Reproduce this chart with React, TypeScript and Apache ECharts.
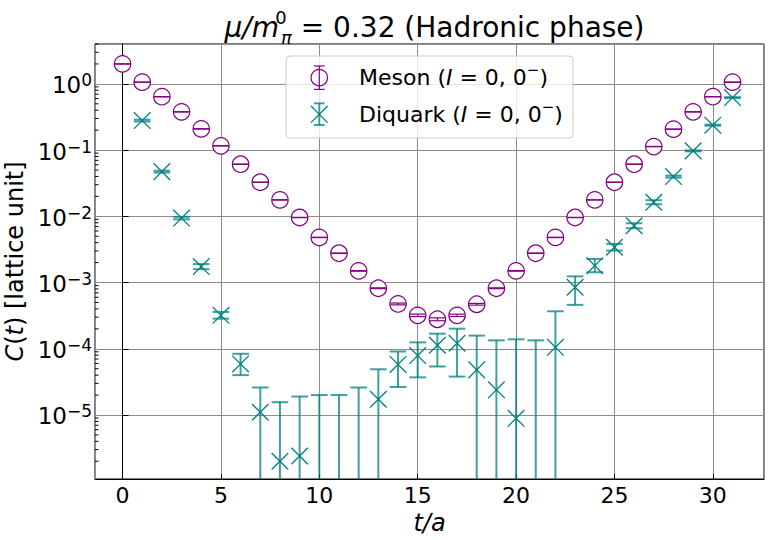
import React, { useEffect, useRef } from "react";
import * as echarts from "echarts";

// ---------- data ----------
const timeSlices = [0, 1, 2, 3, 4, 5, 6, 7, 8, 9, 10, 11, 12, 13, 14, 15, 16, 17, 18, 19, 20, 21, 22, 23, 24, 25, 26, 27, 28, 29, 30, 31];

const mesonValues = [
  2.0, 1.06, 0.64, 0.378, 0.209, 0.116, 0.0612, 0.0327, 0.0177, 0.0096, 0.0048, 0.00277, 0.0015, 0.00082, 0.000475, 0.00032,
  0.000279, 0.00032, 0.00047, 0.00082, 0.0015, 0.00277, 0.0048, 0.0096, 0.0177, 0.0327, 0.0612, 0.113, 0.207, 0.378, 0.64, 1.06,
];
const mesonErrors = [
  0.01, 0.005, 0.003, 0.002, 0.001, 0.0006, 0.0003, 0.00016, 0.00009, 0.00005, 0.00003, 0.00002, 0.000015, 0.000012, 0.000015, 0.000014,
  0.000014, 0.000013, 0.000014, 0.000012, 0.000015, 0.00002, 0.00003, 0.00005, 0.00009, 0.00016, 0.0003, 0.0006, 0.001, 0.002, 0.003, 0.005,
];

// diquark: central value (null = below the axis / not drawn), upper and lower ends of the error bar (null lower = runs below the axis)
const diquarkValues = [
  null, 0.279, 0.0473, 0.0094, 0.00174, 0.00032, 5.9e-5, 1.1e-5, 2.0e-6, 2.4e-6, null, null, null, 1.73e-5, 5.8e-5, 7.9e-5,
  1.13e-4, 1.21e-4, 4.8e-5, 2.4e-5, 8.9e-6, null, 1.05e-4, 8.5e-4, 1.8e-3, 3.41e-3, 7.2e-3, 0.0163, 0.0398, 0.0973, 0.238, 0.621,
];
const diquarkUpper = [
  null, 0.288, 0.0488, 0.0098, 0.0019, 0.00036, 8.4e-5, 2.6e-5, 1.56e-5, 1.9e-5, 2.0e-5, 2.0e-5, 2.6e-5, 4.9e-5, 9.1e-5, 1.25e-4,
  1.69e-4, 2.01e-4, 1.58e-4, 1.34e-4, 1.39e-4, 1.34e-4, 3.68e-4, 1.24e-3, 2.27e-3, 3.83e-3, 7.85e-3, 0.0175, 0.0412, 0.099, 0.242, 0.63,
];
const diquarkLower = [
  null, 0.27, 0.0458, 0.009, 0.00159, 0.000285, 4.0e-5, null, null, null, null, null, null, null, 2.65e-5, 3.7e-5,
  5.4e-5, 3.8e-5, null, null, null, null, null, 4.6e-4, 1.43e-3, 3.04e-3, 6.6e-3, 0.0152, 0.0384, 0.0956, 0.234, 0.61,
];

const yTickExponents = [0, -1, -2, -3, -4, -5];
const minorTickMultipliers = [2, 3, 4, 5, 6, 7, 8, 9];
const minorTickDecades = [-6, -5, -4, -3, -2, -1, 0];

// ---------- styling ----------
const FONT = "DejaVu Sans";
const PURPLE = "#800080";
const TEAL = "#008080";
const TEAL_BAR = "rgba(0,128,128,0.75)";
const GRID_GRAY = "#8c8c8c";
const X_MIN = -1.4;
const X_MAX = 32.6;
const Y_MIN = 1.08e-6;
const Y_MAX = 4.0;

function errorBarRenderer(kind: "meson" | "diquark") {
  return (params: any, api: any) => {
    const t = api.value(0);
    const upper = api.value(1);
    const lower = api.value(2);
    const v = api.value(3);
    const cs = params.coordSys;
    const bottom = cs.y + cs.height;
    const pTop = api.coord([t, upper]);
    const x = pTop[0];
    const yTop = pTop[1];
    const hasLower = isFinite(lower) && lower > 0;
    const yBot = hasLower ? api.coord([t, lower])[1] : bottom + 3;
    const color = kind === "meson" ? PURPLE : TEAL_BAR;
    const lw = kind === "meson" ? 1.2 : 2;
    const cap = kind === "meson" ? 8 : 8.3;
    const hasValue = isFinite(v) && v > 0;
    const c = hasValue ? api.coord([t, v]) : null;
    const children: any[] = [];
    if (kind === "meson" && c) {
      children.push({ type: "circle", shape: { cx: c[0], cy: c[1], r: 8.2 }, style: { fill: "#fff", stroke: PURPLE, lineWidth: 1.2 } });
    }
    children.push({ type: "line", shape: { x1: x, y1: yTop, x2: x, y2: yBot }, style: { stroke: color, lineWidth: lw } });
    children.push({ type: "line", shape: { x1: x - cap, y1: yTop, x2: x + cap, y2: yTop }, style: { stroke: color, lineWidth: lw } });
    if (hasLower) {
      children.push({ type: "line", shape: { x1: x - cap, y1: yBot, x2: x + cap, y2: yBot }, style: { stroke: color, lineWidth: lw } });
    }
    if (kind === "diquark" && c) {
      const h = 8.3;
      children.push({ type: "line", shape: { x1: c[0] - h, y1: c[1] - h, x2: c[0] + h, y2: c[1] + h }, style: { stroke: TEAL, lineWidth: 1.3 } });
      children.push({ type: "line", shape: { x1: c[0] - h, y1: c[1] + h, x2: c[0] + h, y2: c[1] - h }, style: { stroke: TEAL, lineWidth: 1.3 } });
    }
    return { type: "group", children };
  };
}

function minorTickRenderer(params: any, api: any) {
  const v = api.value(1);
  const cs = params.coordSys;
  const p = api.coord([X_MIN, v]);
  if (p[1] < cs.y || p[1] > cs.y + cs.height) return null;
  return { type: "line", shape: { x1: cs.x, y1: p[1], x2: cs.x + 3.5, y2: p[1] }, style: { stroke: "#000", lineWidth: 1 } };
}

function buildOption() {
  const mesonData = timeSlices.map((t, i) => [t, mesonValues[i] + mesonErrors[i], mesonValues[i] - mesonErrors[i], mesonValues[i]]);
  const diquarkData = timeSlices
    .map((t, i) => [t, diquarkUpper[i] ?? NaN, diquarkLower[i] ?? NaN, diquarkValues[i] ?? NaN])
    .filter((d) => isFinite(d[1] as number));
  const minorTicks: number[][] = [];
  minorTickDecades.forEach((e) => minorTickMultipliers.forEach((k) => minorTicks.push([X_MIN, k * Math.pow(10, e)])));

  const supMinus = (e: number) => (e < 0 ? "\u2212" + -e : String(e));

  const legendRich = {
    n: { fontFamily: FONT, fontSize: 22, lineHeight: 30, fill: "#000" },
    i: { fontFamily: FONT, fontSize: 22, fontStyle: "italic", lineHeight: 30, fill: "#000" },
    s: { fontFamily: FONT, fontSize: 15, lineHeight: 16, verticalAlign: "top", fill: "#000" },
  };

  return {
    animation: false,
    backgroundColor: "#fff",
    textStyle: { fontFamily: FONT },
    title: {
      text: "{i|\u03bc/m}{sup|0}{sub|\u03c0}{n| = 0.32 (Hadronic phase)}",
      left: 429.5,
      top: 3,
      textAlign: "center",
      textStyle: {
        fontFamily: FONT,
        fontSize: 28,
        fontWeight: "normal",
        color: "#000",
        lineHeight: 38,
        rich: {
          i: { fontFamily: FONT, fontSize: 28, fontStyle: "italic", lineHeight: 38, color: "#000" },
          n: { fontFamily: FONT, fontSize: 28, lineHeight: 38, color: "#000" },
          sup: { fontFamily: FONT, fontSize: 18, lineHeight: 16, verticalAlign: "top", width: 0, padding: [0, 0, 0, 2], color: "#000" },
          sub: { fontFamily: FONT, fontSize: 18, fontStyle: "italic", lineHeight: 16, verticalAlign: "bottom", color: "#000" },
        },
      },
    },
    grid: {
      left: 95,
      top: 44,
      right: 6,
      bottom: 61,
      containLabel: false,
      outerBoundsMode: "none",
      show: true,
      borderColor: "#000",
      borderWidth: 1,
      backgroundColor: "transparent",
    },
    xAxis: {
      type: "value",
      min: X_MIN,
      max: X_MAX,
      splitNumber: 7,
      name: "t/a",
      nameLocation: "middle",
      nameGap: 25,
      nameTextStyle: { fontFamily: FONT, fontSize: 24, fontStyle: "italic", color: "#000" },
      axisLine: { show: true, onZero: false, lineStyle: { color: "#000", width: 1 } },
      axisTick: { show: true, inside: true, length: 5, lineStyle: { color: "#000", width: 1 } },
      axisLabel: {
        fontFamily: FONT,
        fontSize: 22,
        color: "#000",
        margin: 5,
        showMinLabel: false,
        showMaxLabel: false,
        formatter: (v: number) => (Math.abs(v % 5) < 1e-9 ? String(v) : ""),
      },
      splitLine: { show: true, lineStyle: { color: GRID_GRAY, width: 1 } },
    },
    yAxis: {
      type: "log",
      logBase: 10,
      min: Y_MIN,
      max: Y_MAX,
      name: "{i|C}{n|(}{i|t}{n|) [lattice unit]}",
      nameLocation: "middle",
      nameGap: 59,
      nameTextStyle: {
        fontFamily: FONT,
        fontSize: 24,
        color: "#000",
        rich: {
          i: { fontFamily: FONT, fontSize: 24, fontStyle: "italic", color: "#000" },
          n: { fontFamily: FONT, fontSize: 24, color: "#000" },
        },
      },
      axisLine: { show: true, lineStyle: { color: "#000", width: 1 } },
      axisTick: { show: true, inside: true, length: 6, lineStyle: { color: "#000", width: 1 } },
      axisLabel: {
        margin: 3,
        showMinLabel: false,
        showMaxLabel: false,
        formatter: (v: number) => {
          const e = Math.round(Math.log10(v));
          if (Math.abs(Math.log10(v) - e) > 1e-6 || yTickExponents.indexOf(e) < 0) return "";
          return "{b|10}{s|" + supMinus(e) + "}";
        },
        rich: {
          b: { fontFamily: FONT, fontSize: 23, lineHeight: 28, padding: [3, 0, 0, 0], color: "#000" },
          s: { fontFamily: FONT, fontSize: 17, lineHeight: 17, padding: [2, 0, 0, 0], verticalAlign: "top", color: "#000" },
        },
      },
      splitLine: { show: true, lineStyle: { color: GRID_GRAY, width: 1 } },
    },
    graphic: [
      { type: "rect", z: 100, shape: { x: 286, y: 56, width: 287, height: 82, r: 4 }, style: { fill: "rgba(255,255,255,0.8)", stroke: "#cccccc", lineWidth: 1 } },
      { type: "circle", z: 101, shape: { cx: 319.3, cy: 77.7, r: 8.2 }, style: { fill: "#fff", stroke: PURPLE, lineWidth: 1.2 } },
      { type: "line", z: 102, shape: { x1: 319.3, y1: 66, x2: 319.3, y2: 89.4 }, style: { stroke: PURPLE, lineWidth: 1.2 } },
      { type: "line", z: 102, shape: { x1: 314, y1: 66, x2: 324.6, y2: 66 }, style: { stroke: PURPLE, lineWidth: 1.2 } },
      { type: "line", z: 102, shape: { x1: 314, y1: 89.4, x2: 324.6, y2: 89.4 }, style: { stroke: PURPLE, lineWidth: 1.2 } },
      { type: "line", z: 102, shape: { x1: 319.3, y1: 103.3, x2: 319.3, y2: 125 }, style: { stroke: TEAL_BAR, lineWidth: 2 } },
      { type: "line", z: 102, shape: { x1: 314, y1: 103.3, x2: 324.6, y2: 103.3 }, style: { stroke: TEAL_BAR, lineWidth: 2 } },
      { type: "line", z: 102, shape: { x1: 314, y1: 125, x2: 324.6, y2: 125 }, style: { stroke: TEAL_BAR, lineWidth: 2 } },
      { type: "line", z: 103, shape: { x1: 311, y1: 106, x2: 327.6, y2: 122.6 }, style: { stroke: TEAL, lineWidth: 1.3 } },
      { type: "line", z: 103, shape: { x1: 311, y1: 122.6, x2: 327.6, y2: 106 }, style: { stroke: TEAL, lineWidth: 1.3 } },
      {
        type: "text",
        z: 103,
        x: 359,
        y: 77.7,
        style: {
          text: "{n|Meson (}{i|I}{n| = 0, 0}{s|\u2212}{n|)}",
          verticalAlign: "middle",
          fill: "#000",
          font: "22px 'DejaVu Sans'",
          rich: legendRich,
        },
      },
      {
        type: "text",
        z: 103,
        x: 359,
        y: 114,
        style: {
          text: "{n|Diquark (}{i|I}{n| = 0, 0}{s|\u2212}{n|)}",
          verticalAlign: "middle",
          fill: "#000",
          font: "22px 'DejaVu Sans'",
          rich: legendRich,
        },
      },
    ],
    series: [
      {
        type: "custom",
        name: "minor ticks",
        renderItem: minorTickRenderer,
        data: minorTicks,
        encode: { x: 0, y: 1 },
        clip: false,
        silent: true,
        z: 3,
      },
      {
        type: "custom",
        name: "Meson (I = 0, 0-)",
        renderItem: errorBarRenderer("meson"),
        dimensions: ["t", "upper", "lower", "value"],
        encode: { x: 0, y: 1 },
        data: mesonData,
        clip: true,
        z: 4,
      },
      {
        type: "custom",
        name: "Diquark (I = 0, 0-)",
        renderItem: errorBarRenderer("diquark"),
        dimensions: ["t", "upper", "lower", "value"],
        encode: { x: 0, y: 1 },
        data: diquarkData,
        clip: true,
        z: 5,
      },
    ],
  };
}

export default function App() {
  const ref = useRef<HTMLDivElement>(null);
  useEffect(() => {
    document.body.style.margin = "0";
    document.body.style.overflow = "hidden";
    const chart = echarts.init(ref.current as HTMLDivElement, null, { renderer: "svg" });
    chart.setOption(buildOption() as any);
    return () => chart.dispose();
  }, []);
  return <div ref={ref} style={{ width: 770, height: 540 }} />;
}
